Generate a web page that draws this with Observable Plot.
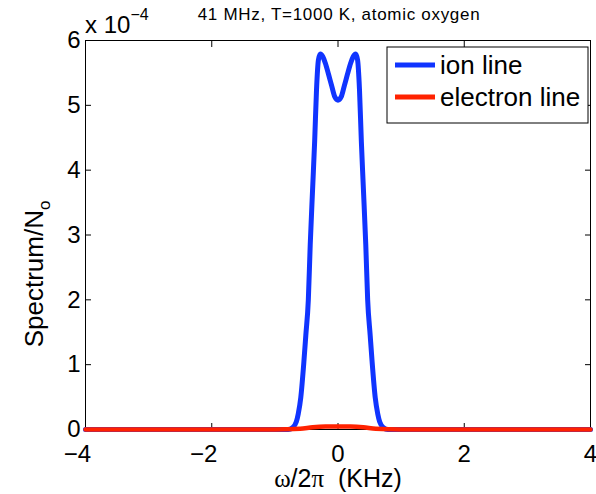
<!DOCTYPE html>
<html>
<head>
<meta charset="utf-8">
<script src="https://cdn.jsdelivr.net/npm/d3@7"></script>
<script src="https://cdn.jsdelivr.net/npm/@observablehq/plot@0.6"></script>
<style>
  html, body { margin: 0; padding: 0; background: white; }
</style>
</head>
<body>
<div id="chart"></div>
<script>
// ---- data (spectrum values in units of 1e-4) ----
const xTicks = [-4, -2, 0, 2, 4];
const yTicks = [0, 1, 2, 3, 4, 5, 6];

const ionFreq = [-4, -1.0, -0.9, -0.79, -0.72, -0.66, -0.63, -0.59, -0.54, -0.51, -0.47, -0.44, -0.40, -0.37, -0.34, -0.31, -0.28, -0.24, -0.20, -0.15, -0.10, -0.05,
  0, 0.05, 0.10, 0.15, 0.20, 0.24, 0.28, 0.31, 0.34, 0.37, 0.40, 0.44, 0.47, 0.51, 0.54, 0.59, 0.63, 0.66, 0.72, 0.79, 0.9, 1.0, 4];
const ionSpec = [0, 0, 0, 0, 0.03, 0.12, 0.24, 0.49, 1.05, 1.45, 2.0, 2.85, 3.76, 4.44, 5.25, 5.70, 5.79, 5.75, 5.65, 5.48, 5.30, 5.13,
  5.08, 5.13, 5.30, 5.48, 5.65, 5.75, 5.79, 5.70, 5.25, 4.44, 3.76, 2.85, 2.0, 1.45, 1.05, 0.49, 0.24, 0.12, 0.03, 0, 0, 0, 0];

const elecFreq = [-4, -1.0, -0.6, -0.4, -0.2, 0, 0.2, 0.4, 0.6, 1.0, 4];
const elecSpec = [0, 0, 0.01, 0.035, 0.045, 0.045, 0.045, 0.035, 0.01, 0, 0];

const seriesNames = ["ion line", "electron line"];
const seriesColors = ["#1034ff", "#ff2200"];

const titleText = "41 MHz, T=1000 K, atomic oxygen";

const ion = ionFreq.map((f, i) => ({f, s: ionSpec[i]}));
const elec = elecFreq.map((f, i) => ({f, s: elecSpec[i]}));

const FONT = "Helvetica, 'Liberation Sans', Arial, sans-serif";
const fmt = d3.format("d");

const plot = Plot.plot({
  width: 596,
  height: 494,
  marginLeft: 85,
  marginRight: 6,
  marginTop: 40,
  marginBottom: 65,
  style: {fontFamily: FONT, fontSize: "24px", background: "white", color: "black", overflow: "visible"},
  x: {domain: [-4, 4], label: null},
  y: {domain: [0, 6], label: null},
  marks: [
    // inward ticks on all four sides
    Plot.axisX({ticks: xTicks, tickSize: -6, tickFormat: () => "", anchor: "bottom"}),
    Plot.axisX({ticks: xTicks, tickSize: -6, tickFormat: () => "", anchor: "top"}),
    Plot.axisY({ticks: yTicks, tickSize: -6, tickFormat: () => "", anchor: "left"}),
    Plot.axisY({ticks: yTicks, tickSize: -6, tickFormat: () => "", anchor: "right"}),
    // tick labels
    Plot.axisX({ticks: xTicks.filter(d => d >= 0), tickSize: 0, tickPadding: 15, fontSize: 24, tickFormat: fmt, anchor: "bottom"}),
    Plot.axisX({ticks: xTicks.filter(d => d < 0), tickSize: 0, tickPadding: 15, fontSize: 24, tickFormat: fmt, dx: -8, anchor: "bottom"}),
    Plot.axisY({ticks: yTicks, tickSize: 0, tickPadding: 5, fontSize: 24, tickFormat: fmt, dy: 0, anchor: "left"}),
    Plot.frame({stroke: "black", strokeWidth: 1}),
    Plot.line(ion, {x: "f", y: "s", stroke: seriesColors[0], strokeWidth: 5, curve: "monotone-x"}),
    Plot.line(elec, {x: "f", y: "s", stroke: seriesColors[1], strokeWidth: 4.5, curve: "monotone-x"})
  ]
});

document.getElementById("chart").appendChild(plot);

const svg = d3.select(plot);

// title
svg.append("text")
  .attr("x", 339).attr("y", 20)
  .attr("text-anchor", "middle")
  .style("font-family", FONT).style("font-size", "17px").style("letter-spacing", "0.7px")
  .text(titleText);

// exponent multiplier
const mult = svg.append("text")
  .attr("x", 85).attr("y", 33)
  .attr("text-anchor", "start")
  .style("font-family", FONT).style("font-size", "24px");
mult.append("tspan").text("x 10");
mult.append("tspan").attr("dy", -13).style("font-size", "16px").text("\u22124");

// x label
const xl = svg.append("text")
  .attr("x", 338).attr("y", 487)
  .attr("text-anchor", "middle")
  .style("font-family", FONT).style("font-size", "25px");
xl.append("tspan").style("font-family", "'Liberation Serif', 'DejaVu Serif', serif").text("\u03c9");
xl.append("tspan").text("/2");
xl.append("tspan").style("font-family", "'Liberation Serif', 'DejaVu Serif', serif").text("\u03c0");
xl.append("tspan").text("\u00a0\u00a0(KHz)");

// y label
const yl = svg.append("text")
  .attr("transform", "translate(43,274) rotate(-90)")
  .attr("text-anchor", "middle")
  .style("font-family", FONT).style("font-size", "26px");
yl.append("tspan").text("Spectrum/N");
yl.append("tspan").attr("dy", 7).style("font-size", "17px").text("o");

// legend
const lg = svg.append("g");
lg.append("rect").attr("x", 387).attr("y", 47).attr("width", 201).attr("height", 76)
  .attr("fill", "white").attr("stroke", "black").attr("stroke-width", 1);
seriesNames.forEach((name, i) => {
  const cy = 65 + i * 32;
  lg.append("line").attr("x1", 395).attr("x2", 435).attr("y1", cy).attr("y2", cy)
    .attr("stroke", seriesColors[i]).attr("stroke-width", 5);
  lg.append("text").attr("x", 440).attr("y", cy + 9)
    .attr("text-anchor", "start")
    .style("font-family", FONT).style("font-size", "26px")
    .text(name);
});
</script>
</body>
</html>
